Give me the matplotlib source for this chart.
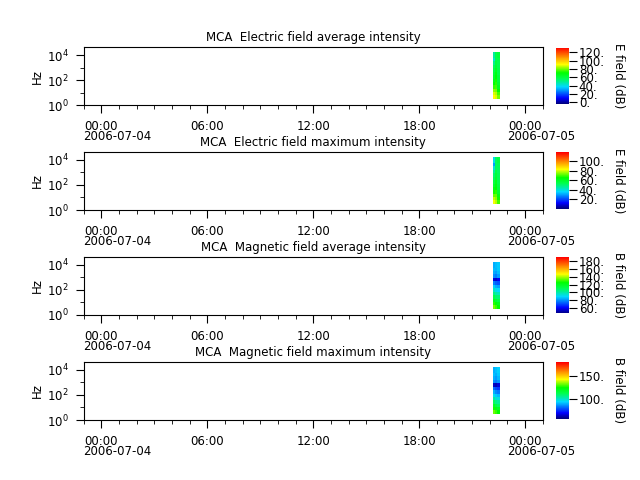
import numpy as np
import matplotlib
matplotlib.use('Agg')
import matplotlib.pyplot as plt
import matplotlib.dates as mdates
from matplotlib.colors import LinearSegmentedColormap
from matplotlib.ticker import FormatStrFormatter, FixedLocator, NullFormatter
from datetime import datetime

# time bin edges of the spectrogram (one burst in the evening)
time_edges = ['2006-07-04 22:10', '2006-07-04 22:18', '2006-07-04 22:26', '2006-07-04 22:34']
# frequency bin edges (Hz)
freq_edges = [3, 6, 11, 20, 38, 70, 130, 250, 470, 900, 1700, 3200, 6000, 17000]

# intensities (dB), one list per time column, low to high frequency
e_avg = [[92, 88, 82, 75, 70, 66, 62, 60, 58, 55, 50, 42, 48],
         [88, 85, 80, 76, 74, 72, 70, 68, 65, 62, 60, 58, 58],
         [80, 76, 70, 65, 62, 60, 60, 58, 58, 57, 57, 58, 60]]
e_max = [[82, 78, 72, 66, 62, 58, 55, 52, 50, 46, 40, 30, 38],
         [78, 75, 72, 68, 65, 63, 61, 59, 57, 55, 53, 52, 52],
         [70, 66, 62, 58, 56, 55, 54, 53, 53, 52, 52, 53, 55]]
b_avg = [[135, 128, 120, 112, 104, 96, 88, 78, 58, 80, 84, 86, 84],
         [130, 124, 116, 108, 100, 92, 84, 74, 55, 78, 82, 85, 86],
         [125, 120, 112, 106, 98, 90, 82, 72, 60, 82, 86, 88, 88]]
b_max = [[132, 125, 118, 110, 102, 95, 88, 80, 62, 84, 88, 90, 88],
         [128, 121, 114, 106, 98, 91, 84, 76, 60, 82, 86, 88, 90],
         [124, 118, 110, 104, 96, 89, 82, 74, 64, 85, 89, 91, 92]]

titles = ['MCA  Electric field average intensity', 'MCA  Electric field maximum intensity',
          'MCA  Magnetic field average intensity', 'MCA  Magnetic field maximum intensity']
cb_labels = ['E field (dB)', 'E field (dB)', 'B field (dB)', 'B field (dB)']
cb_ranges = [(-4, 132), (1, 118), (47, 189), (55, 181)]
cb_ticks = [[0, 20, 40, 60, 80, 100, 120], [20, 40, 60, 80, 100],
            [60, 80, 100, 120, 140, 160, 180], [100, 150]]

cmap = LinearSegmentedColormap.from_list('spec', [
    (0.0, (0.0, 0.0, 0.5)), (0.1, (0.0, 0.0, 1.0)), (0.3, (0.0, 0.85, 1.0)),
    (0.45, (0.0, 1.0, 0.3)), (0.55, (0.0, 1.0, 0.0)), (0.7, (1.0, 1.0, 0.0)),
    (0.85, (1.0, 0.5, 0.0)), (1.0, (1.0, 0.0, 0.0))])

plt.rcParams['font.size'] = 8.5
fig = plt.figure(figsize=(6.4, 4.8), dpi=100)

t_num = mdates.date2num([datetime.strptime(t, '%Y-%m-%d %H:%M') for t in time_edges])
t0 = mdates.date2num(datetime(2006, 7, 3, 23, 0))
t1 = mdates.date2num(datetime(2006, 7, 5, 1, 0))
day_ticks = [datetime(2006, 7, 4), datetime(2006, 7, 5)]

bottoms = [0.781, 0.5625, 0.344, 0.125]
for i, data in enumerate([e_avg, e_max, b_avg, b_max]):
    ax = fig.add_axes([0.131, bottoms[i], 0.717, 0.121])
    c = np.array(data).T
    vmin, vmax = cb_ranges[i]
    mesh = ax.pcolormesh(t_num, freq_edges, c, cmap=cmap, vmin=vmin, vmax=vmax,
                         shading='flat')
    ax.set_yscale('log')
    ax.set_ylim(1, 4.4e4)
    ax.yaxis.set_major_locator(FixedLocator([1, 100, 10000]))
    ax.yaxis.set_minor_locator(FixedLocator([10, 1000]))
    ax.yaxis.set_minor_formatter(NullFormatter())
    ax.set_ylabel('Hz', labelpad=2)
    ax.set_xlim(t0, t1)
    ax.xaxis.set_major_locator(mdates.HourLocator(byhour=[0, 6, 12, 18]))
    ax.xaxis.set_minor_locator(mdates.HourLocator())
    ax.xaxis.set_major_formatter(mdates.DateFormatter('%H:%M'))
    ax.tick_params(which='major', length=6, pad=5)
    ax.tick_params(which='minor', length=3)
    ax.set_title(titles[i], fontsize=8.5, pad=4)
    for d in day_ticks:
        ax.annotate(d.strftime('%Y-%m-%d'), xy=(mdates.date2num(d), 0),
                    xycoords=('data', 'axes fraction'), xytext=(-18, -25),
                    textcoords='offset pixels', ha='left', va='top')

    cax = fig.add_axes([0.869, bottoms[i] + 0.003, 0.0203, 0.117])
    cb = fig.colorbar(mesh, cax=cax)
    cb.set_ticks(cb_ticks[i])
    cb.ax.yaxis.set_major_formatter(FormatStrFormatter('%d.'))
    cb.ax.tick_params(length=6, pad=1)
    cb.outline.set_visible(False)
    cb.set_label(cb_labels[i], rotation=270)
    cb.ax.yaxis.set_label_coords(5.3, 0.5)

fig.savefig('out.png', dpi=100)
